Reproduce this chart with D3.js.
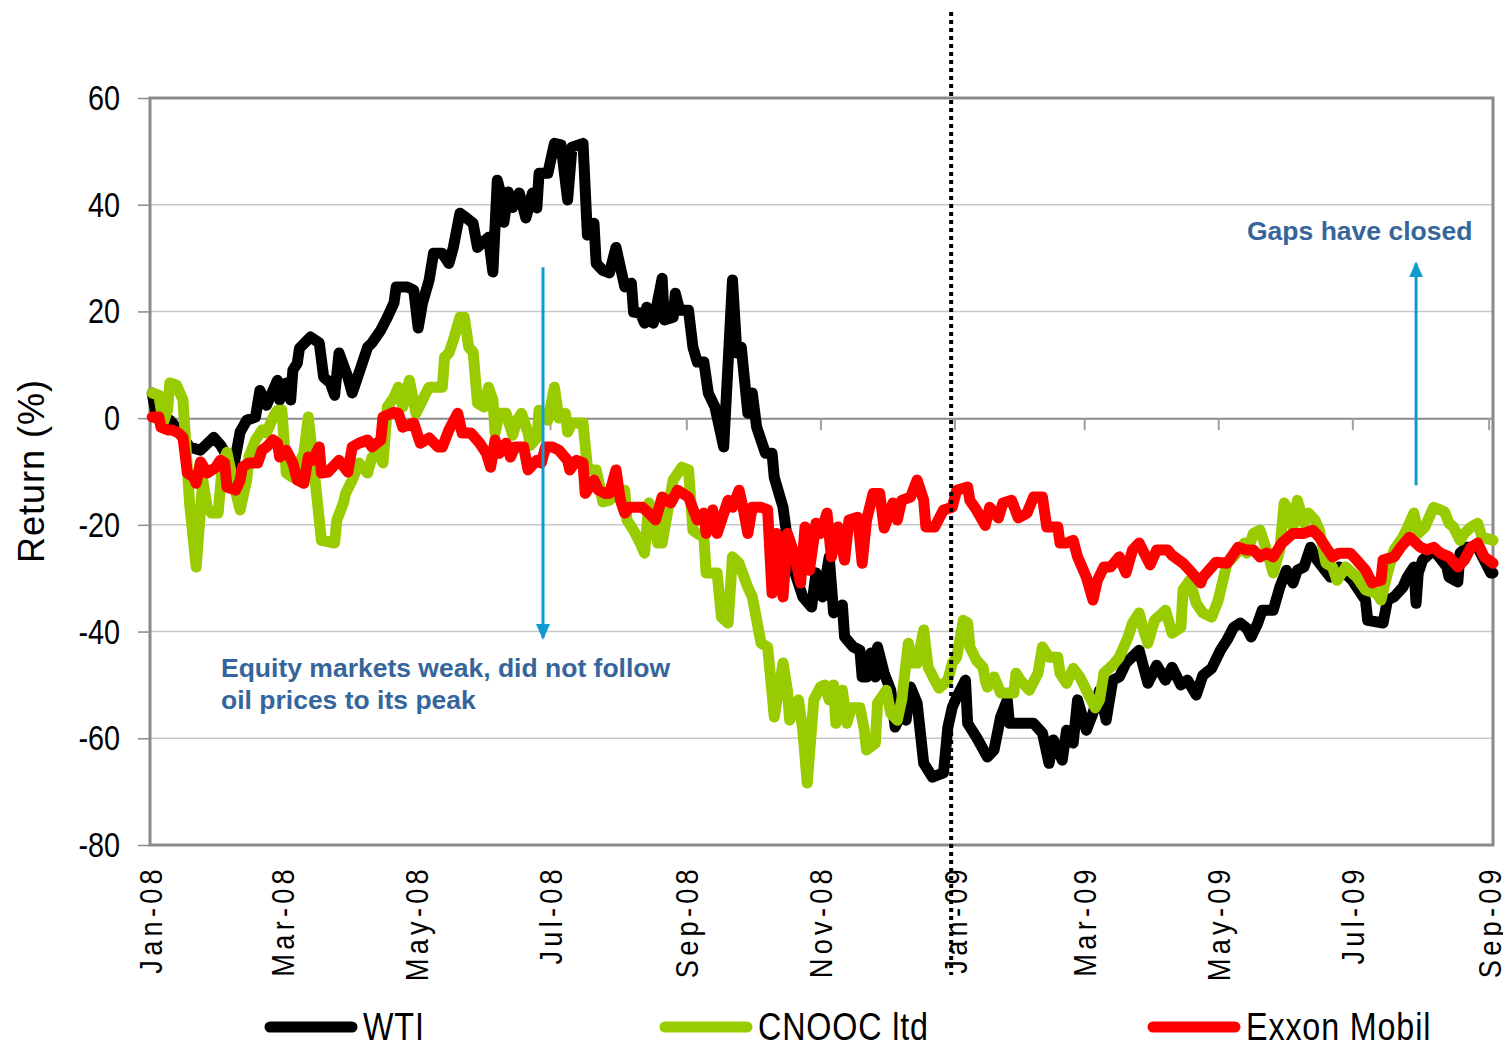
<!DOCTYPE html>
<html>
<head>
<meta charset="utf-8">
<script src="https://cdn.jsdelivr.net/npm/d3@7"></script>
<style>
body { margin: 0; background: #fff; }
text { font-family: "Liberation Sans", Arial, sans-serif; }
</style>
</head>
<body>
<div id="chart-area"></div>
<script>
// returns in %, sampled as [days since 1 Jan 2008, value]
var wti = [[1,4.7],[3,0],[9,-0.4],[11,-1.3],[18,-5.4],[23,-6.0],[29,-3.6],[32,-5.0],[38,-9.2],[41,-2.6],[44,-0.4],[48,0.2],[50,5.2],[53,2.4],[58,7.1],[59,3.4],[62,6.6],[64,3.4],[65,9.0],[67,10.3],[68,13.1],[73,15.2],[77,14.1],[79,7.7],[82,6.6],[84,4.3],[86,12.2],[90,7.7],[92,4.7],[96,9.6],[99,13.3],[101,14.1],[105,16.5],[108,18.9],[111,21.6],[112,24.6],[117,24.6],[120,24.0],[122,16.9],[124,21.6],[127,25.9],[129,30.9],[133,30.9],[136,29.0],[138,32.0],[141,38.4],[144,37.5],[147,36.5],[149,32.0],[151,32.8],[154,33.9],[156,27.4],[158,44.6],[160,41.4],[161,36.7],[163,42.4],[165,39.5],[168,42.2],[171,37.5],[174,42.2],[176,39.4],[177,45.9],[181,45.9],[184,51.5],[187,51.2],[190,40.9],[192,50.8],[197,51.5],[199,34.3],[202,36.5],[203,29.0],[206,27.7],[209,27.2],[212,32.0],[216,24.6],[219,25.3],[220,19.9],[223,19.7],[225,17.8],[226,20.8],[229,17.8],[233,26.2],[234,18.4],[238,18.9],[239,23.4],[241,20.2],[245,20.2],[247,13.3],[249,10.5],[252,10.5],[254,4.7],[257,2.1],[261,-5.4],[265,25.9],[267,12.2],[269,13.3],[272,0.9],[274,4.7],[276,-1.7],[280,-6.6],[283,-6.6],[284,-11.1],[288,-16.7],[291,-26.0],[297,-33.5],[301,-35.4],[303,-29.0],[306,-33.5],[309,-26.0],[311,-36.5],[315,-35.0],[316,-41.0],[320,-42.9],[323,-43.5],[324,-48.5],[326,-48.5],[328,-44.0],[330,-48.5],[331,-42.9],[334,-47.8],[337,-51.0],[339,-57.9],[341,-56.0],[344,-56.6],[346,-50.4],[349,-53.4],[352,-64.7],[356,-67.3],[361,-66.5],[363,-57.9],[365,-54.2],[367,-52.3],[371,-49.1],[372,-57.2],[376,-59.8],[381,-63.5],[384,-62.2],[387,-56.0],[390,-52.8],[391,-57.2],[396,-57.2],[402,-57.2],[406,-59.0],[409,-64.7],[411,-60.3],[415,-64.1],[417,-58.5],[420,-60.9],[422,-52.8],[426,-58.5],[429,-55.3],[432,-51.0],[435,-56.6],[438,-49.1],[441,-48.5],[444,-45.9],[450,-43.5],[454,-49.7],[458,-46.3],[462,-49.1],[465,-46.7],[469,-50.0],[472,-49.1],[476,-51.9],[479,-48.2],[483,-46.9],[487,-43.5],[490,-41.6],[493,-39.2],[496,-38.4],[499,-39.4],[501,-41.0],[504,-38.4],[506,-36.0],[511,-36.0],[514,-31.7],[517,-28.5],[520,-30.9],[522,-28.5],[525,-27.9],[528,-24.2],[531,-26.6],[537,-29.8],[541,-27.9],[547,-30.4],[553,-34.1],[554,-37.9],[561,-38.4],[563,-34.1],[566,-33.5],[570,-31.7],[572,-29.8],[575,-27.9],[576,-34.7],[577,-29.0],[579,-26.6],[584,-24.7],[590,-27.9],[591,-29.8],[595,-30.7],[596,-25.3],[599,-24.2],[604,-24.2],[610,-29.0],[611,-29.0]];

var cnooc = [[1,4.7],[4,4.3],[6,-0.9],[8,1.5],[9,6.6],[12,6.2],[15,3.4],[18,-15.9],[21,-27.9],[24,-11.6],[26,-16.7],[28,-17.8],[31,-17.8],[33,-8.4],[35,-6.4],[38,-12.2],[41,-17.2],[44,-11.6],[45,-7.3],[48,-4.1],[51,-2.2],[53,-2.8],[56,0.2],[58,1.5],[60,1.5],[62,-10.3],[65,-11.1],[70,-6.6],[72,0.2],[74,-7.3],[78,-22.9],[84,-23.4],[85,-19.1],[88,-15.9],[89,-14.1],[92,-11.6],[95,-8.4],[99,-10.3],[101,-7.3],[104,-6.6],[106,-8.4],[108,2.1],[111,3.9],[113,5.8],[115,2.1],[118,7.1],[121,0.9],[124,3.4],[125,4.3],[127,5.8],[133,5.8],[134,11.4],[136,12.2],[138,14.6],[141,18.9],[143,18.9],[145,13.3],[147,12.4],[149,2.8],[152,2.1],[154,5.8],[156,3.4],[157,-2.8],[159,0.9],[162,0.9],[165,-3.2],[167,-0.4],[169,0.9],[172,-2.8],[173,-5.1],[176,-3.7],[177,1.5],[181,-0.4],[184,5.8],[186,0],[189,0.9],[190,-2.6],[192,-0.9],[197,-0.9],[199,-9.2],[201,-9.7],[203,-9.7],[206,-15.7],[209,-15.4],[212,-13.5],[216,-13.5],[217,-19.1],[220,-21.0],[223,-23.4],[225,-25.3],[227,-15.9],[231,-23.4],[233,-23.4],[238,-11.6],[242,-9.2],[245,-9.7],[247,-21.0],[249,-21.6],[252,-22.3],[253,-29.0],[258,-29.0],[260,-37.3],[263,-38.4],[265,-26.0],[268,-27.2],[272,-31.7],[274,-33.5],[278,-42.2],[281,-42.9],[283,-51.5],[284,-56.0],[288,-45.9],[290,-51.0],[291,-56.6],[295,-52.8],[297,-58.5],[299,-68.4],[302,-52.8],[305,-50.4],[307,-50.0],[309,-52.8],[311,-50.0],[312,-57.2],[315,-51.0],[317,-57.2],[319,-54.3],[323,-54.3],[325,-58.5],[326,-62.2],[330,-60.9],[331,-53.4],[335,-51.0],[337,-55.3],[340,-56.6],[342,-52.8],[345,-42.2],[347,-45.9],[349,-45.9],[352,-39.7],[354,-46.7],[357,-49.1],[359,-50.6],[363,-49.1],[365,-45.9],[367,-44.8],[370,-37.9],[372,-38.4],[373,-42.9],[376,-45.4],[379,-46.7],[380,-49.1],[381,-50.4],[384,-48.5],[387,-51.5],[393,-51.5],[394,-47.8],[396,-49.1],[400,-51.0],[404,-47.8],[406,-42.9],[409,-44.8],[413,-44.8],[414,-47.8],[417,-49.7],[420,-46.9],[423,-48.5],[426,-51.0],[430,-54.3],[432,-52.8],[434,-47.8],[438,-46.3],[441,-44.8],[445,-41.0],[447,-38.4],[450,-36.5],[452,-39.7],[454,-42.2],[457,-37.9],[462,-36.0],[465,-40.3],[469,-39.2],[470,-32.2],[473,-30.4],[476,-34.7],[479,-36.5],[483,-37.3],[486,-34.1],[490,-27.2],[493,-26.0],[498,-23.4],[499,-25.3],[502,-21.6],[505,-21.0],[508,-24.7],[511,-29.0],[514,-24.7],[516,-15.9],[519,-17.8],[520,-20.4],[522,-15.4],[525,-19.7],[527,-17.8],[530,-19.1],[532,-21.0],[535,-27.2],[538,-27.9],[540,-30.4],[544,-27.9],[549,-29.8],[553,-32.2],[558,-32.8],[560,-34.1],[563,-29.0],[566,-24.7],[570,-22.3],[572,-20.6],[575,-17.8],[577,-21.6],[580,-20.4],[584,-16.7],[587,-17.2],[589,-17.6],[591,-19.7],[593,-20.4],[596,-22.9],[598,-21.6],[601,-20.4],[604,-19.7],[606,-22.3],[611,-22.9]];

var exxon = [[1,0.2],[4,0.2],[5,-1.7],[8,-2.2],[10,-2.2],[13,-2.8],[15,-3.6],[17,-10.3],[20,-11.1],[21,-12.2],[23,-8.2],[26,-10.3],[30,-9.2],[32,-7.9],[34,-8.4],[35,-12.9],[39,-13.5],[41,-11.6],[42,-9.2],[45,-8.4],[49,-8.4],[51,-6.0],[53,-5.4],[56,-4.1],[58,-4.7],[59,-7.3],[62,-6.0],[65,-8.4],[67,-11.6],[70,-12.2],[72,-7.3],[74,-7.9],[77,-5.4],[78,-10.3],[81,-10.1],[83,-9.2],[86,-7.9],[90,-10.1],[92,-5.4],[95,-4.7],[99,-4.1],[101,-5.4],[105,-4.1],[106,0.2],[111,1.1],[113,0.9],[115,-1.7],[120,-0.9],[123,-4.7],[127,-3.7],[131,-5.4],[133,-5.4],[136,-2.2],[140,0.9],[142,-2.8],[146,-2.8],[150,-4.7],[153,-6.6],[155,-9.2],[157,-4.1],[159,-6.6],[162,-4.7],[164,-7.3],[166,-5.4],[170,-5.4],[172,-9.7],[176,-7.9],[178,-8.4],[180,-5.4],[183,-5.4],[186,-6.0],[190,-7.9],[191,-9.7],[194,-7.9],[197,-8.4],[198,-14.1],[202,-11.6],[204,-13.5],[207,-14.1],[209,-14.1],[212,-9.7],[214,-15.4],[216,-17.8],[218,-16.7],[222,-16.7],[224,-16.7],[227,-17.8],[230,-19.1],[233,-14.8],[237,-15.9],[240,-13.5],[245,-14.8],[249,-19.1],[252,-17.8],[253,-21.6],[256,-17.2],[258,-21.6],[263,-15.4],[265,-16.7],[268,-13.5],[270,-17.2],[272,-21.6],[274,-16.7],[278,-16.7],[281,-17.2],[283,-32.8],[285,-21.6],[288,-33.5],[290,-21.6],[293,-25.3],[296,-30.9],[298,-20.4],[300,-28.5],[303,-19.7],[305,-21.6],[308,-17.8],[310,-26.0],[313,-20.4],[316,-26.6],[318,-19.1],[322,-18.6],[324,-27.2],[326,-19.1],[329,-14.1],[332,-14.1],[334,-20.6],[338,-15.9],[340,-19.1],[342,-15.4],[346,-14.8],[349,-11.6],[352,-15.4],[353,-20.4],[357,-20.4],[361,-17.2],[365,-16.7],[367,-13.5],[372,-12.9],[373,-15.4],[376,-17.2],[380,-20.1],[382,-16.7],[386,-18.7],[388,-15.9],[392,-15.4],[395,-18.7],[399,-17.8],[402,-14.8],[406,-14.8],[408,-20.4],[413,-20.4],[414,-23.4],[417,-23.4],[420,-22.9],[422,-26.0],[424,-27.9],[426,-29.8],[429,-34.1],[431,-30.4],[434,-27.9],[437,-27.9],[441,-26.0],[444,-29.0],[447,-24.7],[450,-23.4],[455,-27.5],[458,-24.7],[463,-24.7],[465,-25.7],[470,-27.2],[473,-28.5],[478,-30.9],[479,-29.8],[485,-27.0],[490,-27.2],[495,-24.2],[499,-24.7],[502,-24.7],[505,-26.0],[508,-25.3],[511,-26.0],[515,-23.4],[520,-21.6],[525,-21.6],[529,-21.0],[532,-22.3],[535,-24.2],[538,-26.0],[541,-25.3],[546,-25.3],[549,-26.6],[553,-28.5],[556,-30.9],[560,-30.4],[561,-26.6],[566,-26.0],[569,-24.2],[573,-22.3],[578,-24.2],[581,-24.7],[584,-24.2],[587,-25.3],[591,-26.0],[595,-27.9],[598,-26.6],[601,-24.2],[604,-23.4],[607,-26.0],[611,-27.2]];

var seriesNames = ["WTI", "CNOOC ltd", "Exxon Mobil"];
var seriesColors = ["#000000", "#99cc00", "#ff0000"];
var monthLabels = ["Jan-08","Mar-08","May-08","Jul-08","Sep-08","Nov-08","Jan-09","Mar-09","May-09","Jul-09","Sep-09"];
var yTicks = [60, 40, 20, 0, -20, -40, -60, -80];

var margin = { left:150, right:10, top:98, bottom:199 };
var width = 1503 - margin.left - margin.right,
    height = 1044 - margin.top - margin.bottom;

var svg = d3.select("#chart-area")
    .append("svg")
        .attr("width", 1503)
        .attr("height", 1044);

var g = svg.append("g")
    .attr("transform", "translate(" + margin.left + ", " + margin.top + ")");

var start = new Date(2008, 0, 1);
function toDate(day) { return new Date(start.getTime() + day * 86400000); }

var xScale = d3.scaleTime()
    .domain([start, new Date(2009, 8, 3)])
    .range([0, 1343]);

var yScale = d3.scaleLinear()
    .domain([-80, 60])
    .range([height, 0]);

var monthTicks = d3.timeMonth.every(2).range(start, new Date(2009, 8, 2));

// light gridlines
g.append("g")
    .selectAll("line")
    .data(yTicks.filter(function(v){ return v !== 0 && v !== 60 && v !== -80; }))
    .enter().append("line")
        .attr("x1", 0)
        .attr("x2", 1343)
        .attr("y1", function(d){ return yScale(d); })
        .attr("y2", function(d){ return yScale(d); })
        .attr("stroke", "#c8c8c8")
        .attr("stroke-width", 1.5);

// zero axis with month ticks
var zeroAxis = d3.axisBottom(xScale)
    .tickValues(monthTicks)
    .tickSize(12)
    .tickSizeOuter(0)
    .tickFormat("");

var zg = g.append("g")
    .attr("transform", "translate(0, " + yScale(0) + ")")
    .call(zeroAxis);
zg.select(".domain").attr("stroke", "#8a8a8a").attr("stroke-width", 2);
zg.selectAll(".tick line").attr("stroke", "#a0a0a0").attr("stroke-width", 2);

// y axis
var yAxisCall = d3.axisLeft(yScale)
    .tickValues(yTicks)
    .tickSize(12)
    .tickSizeOuter(0)
    .tickFormat(function(d){ return String(d); });

var yg = g.append("g").call(yAxisCall);
yg.select(".domain").remove();
yg.selectAll(".tick line").attr("stroke", "#8a8a8a").attr("stroke-width", 1.5);
yg.selectAll("text")
    .attr("font-family", "'Liberation Sans', Arial, sans-serif")
    .attr("font-size", "36px")
    .attr("fill", "#000")
    .attr("x", 0)
    .attr("text-anchor", "end")
    .attr("transform", "translate(-30,0) scale(0.8,1)");

// plot border
g.append("rect")
    .attr("x", 0)
    .attr("y", 0)
    .attr("width", 1343)
    .attr("height", height)
    .attr("fill", "none")
    .attr("stroke", "#8a8a8a")
    .attr("stroke-width", 3);

// x tick labels (rotated)
var xAxisCall = d3.axisBottom(xScale)
    .tickValues(monthTicks)
    .tickSize(0)
    .tickSizeOuter(0)
    .tickFormat(function(d, i){ return monthLabels[i]; });

var xg = g.append("g")
    .attr("transform", "translate(0, " + (height + 20) + ")")
    .call(xAxisCall);
xg.select(".domain").remove();
xg.selectAll("text")
    .attr("font-family", "'Liberation Sans', Arial, sans-serif")
    .attr("font-size", "32px")
    .attr("letter-spacing", "5px")
    .attr("fill", "#000")
    .attr("x", 0)
    .attr("y", 0)
    .attr("dy", "0.36em")
    .attr("text-anchor", "end")
    .attr("transform", "rotate(-90) scale(0.85,1)");

// lines
var line = d3.line()
    .x(function(d){ return xScale(toDate(d[0])); })
    .y(function(d){ return yScale(d[1]); });

[wti, cnooc, exxon].forEach(function(data, i){
    g.append("path")
        .attr("class", "line")
        .attr("d", line(data))
        .attr("fill", "none")
        .attr("stroke", seriesColors[i])
        .attr("stroke-width", 11)
        .attr("stroke-linejoin", "round")
        .attr("stroke-linecap", "round");
});

// year-end marker
var yearEnd = xScale(new Date(2008, 11, 30, 12));
g.append("line")
    .attr("x1", yearEnd)
    .attr("x2", yearEnd)
    .attr("y1", 12 - margin.top)
    .attr("y2", 975 - margin.top)
    .attr("stroke", "#000")
    .attr("stroke-width", 4)
    .attr("stroke-dasharray", "4,4");

// arrows
var arrowColor = "#0e9bd0";
svg.append("defs").append("marker")
    .attr("id", "head")
    .attr("markerUnits", "userSpaceOnUse")
    .attr("viewBox", "0 0 16 16")
    .attr("refX", 14)
    .attr("refY", 8)
    .attr("markerWidth", 16)
    .attr("markerHeight", 16)
    .attr("orient", "auto")
  .append("path")
    .attr("d", "M0,1 L16,8 L0,15 Z")
    .attr("fill", arrowColor);

var arrows = [
    { day: 178.8, from: 28.3, to: -41.2 },
    { day: 576, from: -12.6, to: 29.0 }
];
g.selectAll(".arrow")
    .data(arrows)
    .enter().append("line")
        .attr("class", "arrow")
        .attr("x1", function(d){ return xScale(toDate(d.day)); })
        .attr("x2", function(d){ return xScale(toDate(d.day)); })
        .attr("y1", function(d){ return yScale(d.from); })
        .attr("y2", function(d){ return yScale(d.to); })
        .attr("stroke", arrowColor)
        .attr("stroke-width", 3)
        .attr("marker-end", "url(#head)");

// annotations
var noteColor = "#35659b";
var notes = g.append("g")
    .attr("font-family", "'Liberation Sans', Arial, sans-serif")
    .attr("font-weight", "bold")
    .attr("font-size", "26.5px")
    .attr("fill", noteColor);
notes.append("text").attr("x", 221 - margin.left).attr("y", 677 - margin.top).text("Equity markets weak, did not follow");
notes.append("text").attr("x", 221 - margin.left).attr("y", 709 - margin.top).text("oil prices to its peak");
notes.append("text").attr("x", 1247 - margin.left).attr("y", 240 - margin.top).text("Gaps have closed");

// y axis title
svg.append("text")
    .attr("x", -471)
    .attr("y", 44)
    .attr("transform", "rotate(-90)")
    .attr("text-anchor", "middle")
    .attr("font-family", "'Liberation Sans', Arial, sans-serif")
    .attr("font-size", "36px")
    .attr("letter-spacing", "1px")
    .attr("fill", "#000")
    .text("Return (%)");

// legend
var legendX = [265, 660, 1148];
var legend = svg.append("g");
seriesNames.forEach(function(name, i){
    legend.append("line")
        .attr("x1", legendX[i] + 5)
        .attr("x2", legendX[i] + 87)
        .attr("y1", 1027)
        .attr("y2", 1027)
        .attr("stroke", seriesColors[i])
        .attr("stroke-width", 11)
        .attr("stroke-linecap", "round");
    legend.append("text")
        .attr("x", 0)
        .attr("y", 0)
        .attr("transform", "translate(" + (legendX[i] + 98) + ",1040) scale(0.85,1)")
        .attr("font-family", "'Liberation Sans', Arial, sans-serif")
        .attr("font-size", "38px")
        .attr("letter-spacing", "1px")
        .attr("fill", "#000")
        .text(name);
});
</script>
</body>
</html>
